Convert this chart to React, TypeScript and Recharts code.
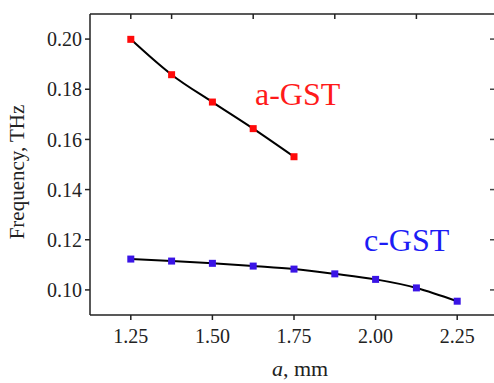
import { LineChart, Line, XAxis, YAxis } from 'recharts';

// lattice constant a (mm) and resonance frequency (THz)
const aGstLattice = [1.25, 1.375, 1.5, 1.625, 1.75];
const aGstFreq = [0.1999, 0.1858, 0.1749, 0.1643, 0.1531];
const cGstLattice = [1.25, 1.375, 1.5, 1.625, 1.75, 1.875, 2.0, 2.125, 2.25];
const cGstFreq = [0.1123, 0.1115, 0.1106, 0.1095, 0.1083, 0.1064, 0.1042, 0.1008, 0.0955];

const xMajor = [1.25, 1.5, 1.75, 2.0, 2.25];
const xMinor = [1.375, 1.625, 1.875, 2.125];
const yMajor = [0.1, 0.12, 0.14, 0.16, 0.18, 0.2];
const yMinor = [0.11, 0.13, 0.15, 0.17, 0.19];

const X_DOMAIN = [1.125, 2.375];
const Y_DOMAIN = [0.09, 0.21];

const FONT = '"Liberation Serif", "Times New Roman", serif';
const AXIS = '#222';

const aGstData = aGstLattice.map((x, i) => ({ x, y: aGstFreq[i] }));
const cGstData = cGstLattice.map((x, i) => ({ x, y: cGstFreq[i] }));

function squareDot(color: string) {
  return (props: any) => {
    const { cx, cy, index } = props;
    if (cx == null || cy == null) return <g key={index} />;
    return <rect key={index} x={cx - 3.5} y={cy - 3.5} width={7} height={7} fill={color} />;
  };
}

const tickText = { fontFamily: FONT, fontSize: 20, fill: '#222' };
const blank = () => '';

export default function App() {
  return (
    <div style={{ position: 'absolute', left: 0, top: 0, width: 494, height: 383, overflow: 'hidden', background: '#fff' }}>
      <LineChart width={500} height={383} margin={{ top: 14, right: 2, left: 0, bottom: 0 }}>
        {/* minor ticks first so they sit on the plot edge */}
        <XAxis xAxisId="xm" type="number" dataKey="x" domain={X_DOMAIN} ticks={xMinor} allowDataOverflow
          height={0} tickSize={3} tickFormatter={blank} axisLine={false} tickLine={{ stroke: AXIS, strokeWidth: 1.5 }} />
        <XAxis xAxisId="x" type="number" dataKey="x" domain={X_DOMAIN} ticks={xMajor} allowDataOverflow
          height={68} tickSize={5} tickMargin={9} tick={tickText}
          tickFormatter={(v: number) => v.toFixed(2)}
          axisLine={{ stroke: AXIS, strokeWidth: 1.5 }} tickLine={{ stroke: AXIS, strokeWidth: 1.5 }} />
        <XAxis xAxisId="xt" orientation="top" mirror type="number" dataKey="x" domain={X_DOMAIN}
          ticks={[...xMajor, ...xMinor]} allowDataOverflow tickSize={5} tickFormatter={blank}
          axisLine={{ stroke: AXIS, strokeWidth: 1.5 }} tickLine={{ stroke: AXIS, strokeWidth: 1.5 }} />

        <YAxis yAxisId="ym" type="number" domain={Y_DOMAIN} ticks={yMinor} allowDataOverflow
          width={0} tickSize={3} tickFormatter={blank} axisLine={false} tickLine={{ stroke: AXIS, strokeWidth: 1.5 }} />
        <YAxis yAxisId="y" type="number" domain={Y_DOMAIN} ticks={yMajor} allowDataOverflow
          width={90} tickSize={5} tickMargin={3} tick={tickText}
          tickFormatter={(v: number) => v.toFixed(2)}
          axisLine={{ stroke: AXIS, strokeWidth: 1.5 }} tickLine={{ stroke: AXIS, strokeWidth: 1.5 }} />
        <YAxis yAxisId="yr" orientation="right" mirror type="number" domain={Y_DOMAIN} ticks={yMajor}
          allowDataOverflow tickSize={8} tickFormatter={blank}
          axisLine={{ stroke: AXIS, strokeWidth: 1.5 }} tickLine={{ stroke: '#444', strokeWidth: 1.5 }} />

        <Line xAxisId="x" yAxisId="y" data={aGstData} dataKey="y" type="monotone" stroke="#000" strokeWidth={2}
          dot={squareDot('#ff0a0a')} activeDot={false} isAnimationActive={false} />
        <Line xAxisId="x" yAxisId="y" data={cGstData} dataKey="y" type="monotone" stroke="#000" strokeWidth={2}
          dot={squareDot('#3a14e6')} activeDot={false} isAnimationActive={false} />

        <text x={255} y={105} fontFamily={FONT} fontSize={32} fill="#ff1a1a">a-GST</text>
        <text x={364} y={251} fontFamily={FONT} fontSize={32} fill="#1c1cf5">c-GST</text>
        <text transform="translate(24,172) rotate(-90)" textAnchor="middle" fontFamily={FONT} fontSize={21} fill="#222">
          Frequency, THz
        </text>
        <text x={300} y={376} textAnchor="middle" fontFamily={FONT} fontSize={22} fill="#222">
          <tspan fontStyle="italic">a</tspan>, mm
        </text>
      </LineChart>
    </div>
  );
}
